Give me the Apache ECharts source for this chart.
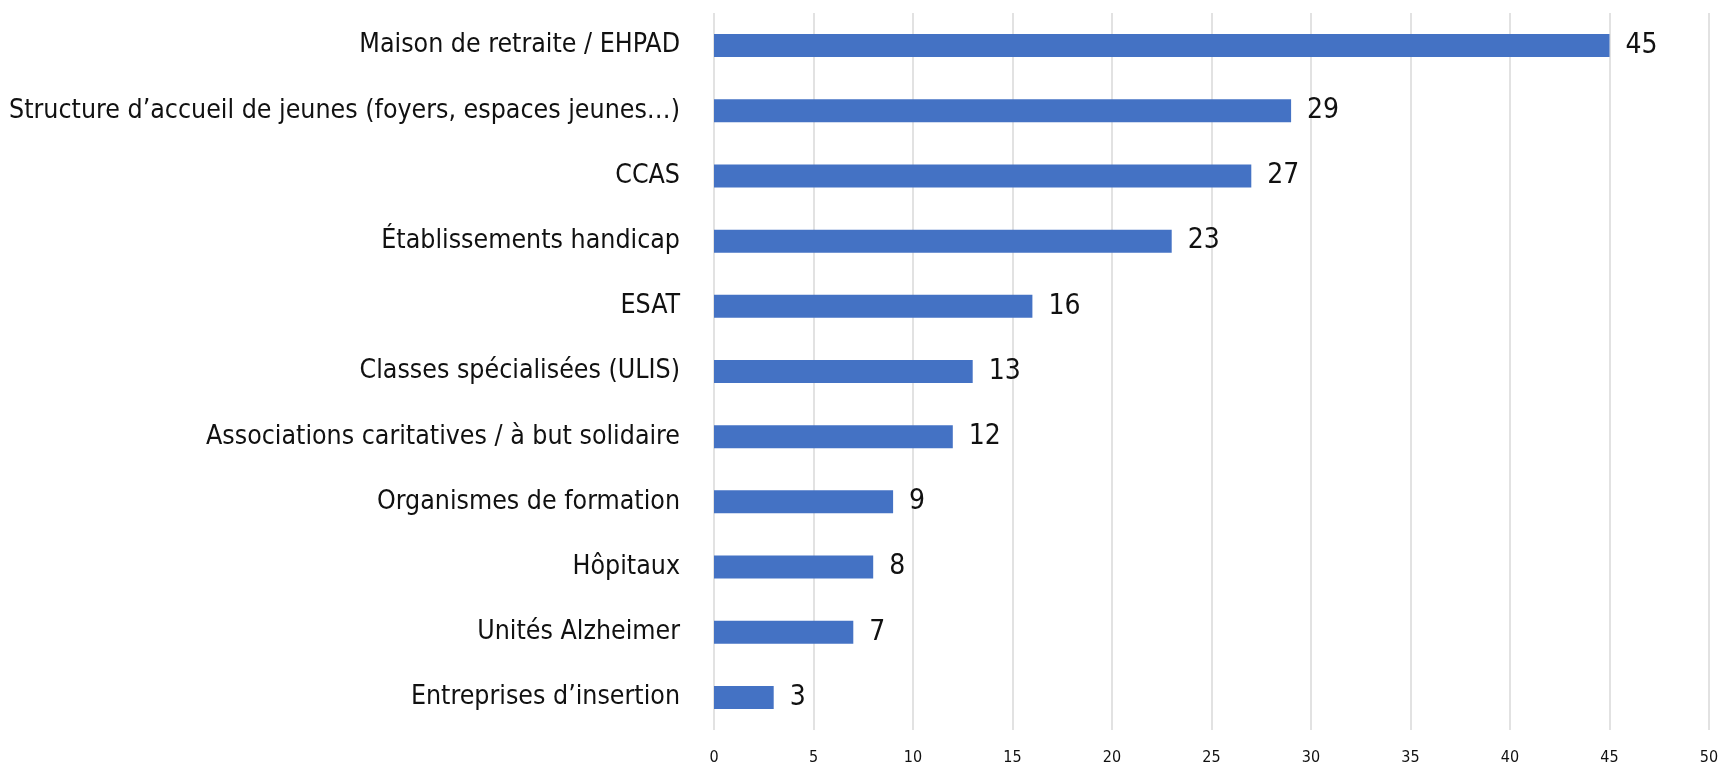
<!DOCTYPE html>
<html>
<head>
<meta charset="utf-8">
<script src="https://cdn.jsdelivr.net/npm/echarts@6/dist/echarts.min.js"></script>
<style>
  html, body { margin: 0; padding: 0; background: #fff; }
  #chart { width: 1721px; height: 770px; }
</style>
</head>
<body>
<div id="chart"></div>
<script>
// top to bottom as in the picture
const categories = [
  'Maison de retraite / EHPAD',
  'Structure d\u2019accueil de jeunes (foyers, espaces jeunes\u2026)',
  'CCAS',
  '\u00c9tablissements handicap',
  'ESAT',
  'Classes sp\u00e9cialis\u00e9es (ULIS)',
  'Associations caritatives / \u00e0 but solidaire',
  'Organismes de formation',
  'H\u00f4pitaux',
  'Unit\u00e9s Alzheimer',
  'Entreprises d\u2019insertion'
];
const values = [45, 29, 27, 23, 16, 13, 12, 9, 8, 7, 3];

const FONT = '"DejaVu Sans", sans-serif';
// condensed face via the font-stretch keyword of the canvas font string
const STRETCH = 'condensed';
const TEXT = '#111';

const myChart = echarts.init(document.getElementById('chart'));

myChart.setOption({
  backgroundColor: '#ffffff',
  animation: false,
  grid: {
    left: 714,
    right: 12,
    top: 13,
    bottom: 40,
    outerBoundsMode: 'none'
  },
  xAxis: {
    type: 'value',
    min: 0,
    max: 50,
    interval: 5,
    axisLine: { show: false },
    axisTick: { show: false },
    axisLabel: {
      fontFamily: FONT,
      fontWeight: STRETCH,
      fontSize: 16,
      color: TEXT,
      margin: 20
    },
    splitLine: {
      lineStyle: { color: '#d9d9d9', width: 1.5 }
    }
  },
  yAxis: {
    type: 'category',
    inverse: true,
    data: categories,
    axisLine: { show: false },
    axisTick: { show: false },
    axisLabel: {
      fontFamily: FONT,
      fontWeight: STRETCH,
      fontSize: 26.5,
      color: TEXT,
      margin: 34
    }
  },
  series: [
    {
      type: 'bar',
      data: values,
      barWidth: 23,
      itemStyle: { color: '#4472c4' },
      label: {
        show: true,
        position: 'right',
        distance: 16,
        fontFamily: FONT,
        fontWeight: STRETCH,
        fontSize: 28,
        color: TEXT
      }
    }
  ]
});
</script>
</body>
</html>
